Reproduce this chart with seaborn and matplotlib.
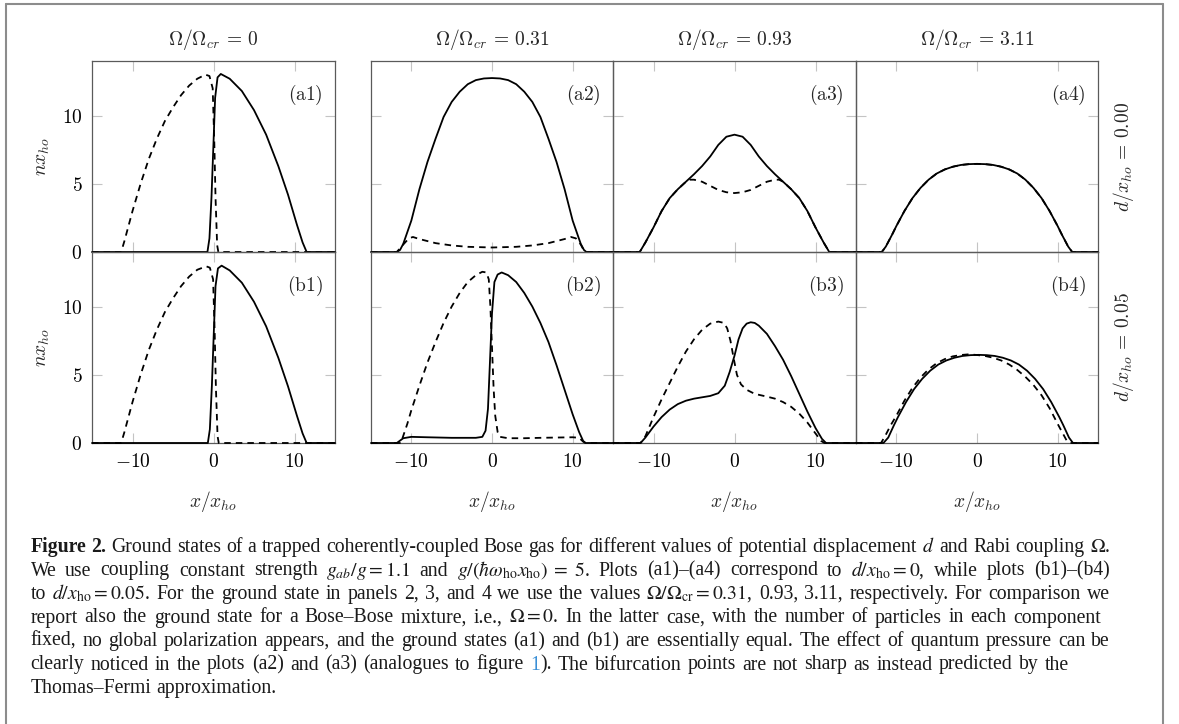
import matplotlib
matplotlib.use('Agg')
import matplotlib.pyplot as plt
import seaborn as sns
from matplotlib.lines import Line2D

# ---- curves: x/x_ho and n*x_ho ----
# (a1) Omega/Omega_cr = 0, d = 0
a1_solid_x = [-15, -0.75, -0.5, -0.25, 0.0, 0.2, 0.5, 0.9, 2.0, 3.5, 5.0, 6.5, 8.0, 9.2, 10.3, 11.0, 11.5, 15]
a1_solid_y = [0, 0, 1.0, 4.0, 8.0, 11.3, 12.8, 13.05, 12.7, 11.8, 10.4, 8.6, 6.3, 4.2, 2.0, 0.7, 0, 0]
a1_dash_x = [-15, -11.4, -11, -10, -9, -8, -7, -6, -5, -4, -3, -2, -1, -0.5, -0.1, 0.1, 0.25, 0.45, 0.6, 15]
a1_dash_y = [0, 0, 0.8, 3.0, 5.0, 6.8, 8.3, 9.6, 10.6, 11.5, 12.2, 12.7, 13.0, 12.9, 12.0, 8.0, 4.0, 0.5, 0, 0]

# (a2) Omega/Omega_cr = 0.31
a2_solid_x = [-15, -11.8, -11.4, -11, -10, -9, -8, -7, -6, -5, -4, -3, -2, -1, 0,
              1, 2, 3, 4, 5, 6, 7, 8, 9, 10, 11, 11.4, 11.7, 15]
a2_solid_y = [0, 0, 0.15, 0.6, 2.3, 4.6, 6.6, 8.3, 9.9, 11.0, 11.75, 12.3, 12.6, 12.72, 12.75,
              12.72, 12.6, 12.3, 11.75, 11.0, 9.9, 8.3, 6.6, 4.6, 2.3, 0.6, 0.15, 0, 0]
a2_dash_x = [-15, -11.8, -11, -10.3, -9.8, -9, -7, -5, -3, 0, 3, 5, 7, 9, 9.8, 10.4, 11, 11.4, 11.7, 15]
a2_dash_y = [0, 0, 0.55, 1.0, 1.1, 0.95, 0.65, 0.48, 0.38, 0.33, 0.38, 0.48, 0.65, 0.95, 1.1, 1.0, 0.55, 0.1, 0, 0]

# (a3) Omega/Omega_cr = 0.93
a3_solid_x = [-15, -11.7, -11, -10, -9, -8, -7, -6, -5, -4, -3, -2, -1, 0,
              1, 2, 3, 4, 5, 6, 7, 8, 9, 10, 11, 11.7, 15]
a3_solid_y = [0, 0, 0.7, 1.8, 3.0, 3.95, 4.6, 5.15, 5.7, 6.3, 7.0, 7.85, 8.45, 8.6,
              8.45, 7.85, 7.0, 6.3, 5.7, 5.15, 4.6, 3.95, 3.0, 1.8, 0.7, 0, 0]
a3_dash_x = [-15, -11.7, -11, -10, -9, -8, -7, -6, -5.5, -5, -4, -3, -2, -1, 0,
             1, 2, 3, 4, 5, 5.5, 6, 7, 8, 9, 10, 11, 11.7, 15]
a3_dash_y = [0, 0, 0.7, 1.8, 3.0, 3.95, 4.6, 5.15, 5.3, 5.3, 5.15, 4.85, 4.55, 4.38, 4.32,
             4.38, 4.55, 4.85, 5.15, 5.3, 5.3, 5.15, 4.6, 3.95, 3.0, 1.8, 0.7, 0, 0]

# (a4) Omega/Omega_cr = 3.11
a4_solid_x = [-15, -11.8, -11.3, -10.5, -10, -9, -8, -7, -6, -5, -4, -3, -2, -1, 0,
              1, 2, 3, 4, 5, 6, 7, 8, 9, 10, 10.5, 11.3, 11.8, 15]
a4_solid_y = [0, 0, 0.4, 1.3, 1.9, 3.0, 3.95, 4.7, 5.3, 5.75, 6.05, 6.25, 6.38, 6.44, 6.46,
              6.44, 6.38, 6.25, 6.05, 5.75, 5.3, 4.7, 3.95, 3.0, 1.9, 1.3, 0.4, 0, 0]
a4_dash_x = a4_solid_x
a4_dash_y = a4_solid_y

# (b1) d/x_ho = 0.05
b1_solid_x = [-15, -0.7, -0.45, -0.2, 0.05, 0.25, 0.55, 1.0, 2.0, 3.5, 5.0, 6.5, 8.0, 9.2, 10.3, 11.0, 11.5, 15]
b1_solid_y = [0, 0, 1.0, 4.2, 8.3, 11.5, 12.8, 13.0, 12.65, 11.75, 10.35, 8.55, 6.25, 4.15, 2.0, 0.7, 0, 0]
b1_dash_x = [-15, -11.4, -11, -10, -9, -8, -7, -6, -5, -4, -3, -2, -0.9, -0.45, -0.05, 0.15, 0.3, 0.5, 0.65, 15]
b1_dash_y = [0, 0, 0.8, 3.0, 5.0, 6.8, 8.3, 9.6, 10.6, 11.5, 12.2, 12.7, 12.95, 12.85, 12.0, 8.0, 4.0, 0.5, 0, 0]

# (b2)
b2_solid_x = [-15, -11.8, -11, -10, -8, -5, -2, -1.2, -0.8, -0.5, -0.25, 0, 0.3, 0.7, 1.2,
              2, 3, 4, 5, 6, 7, 8, 9, 10, 10.8, 11.3, 11.6, 15]
b2_solid_y = [0, 0, 0.35, 0.45, 0.42, 0.38, 0.38, 0.45, 0.9, 2.5, 6.0, 9.5, 11.8, 12.35, 12.5,
              12.3, 11.8, 11.0, 10.0, 8.8, 7.4, 5.7, 3.9, 2.1, 0.8, 0.15, 0, 0]
b2_dash_x = [-15, -11.3, -10.5, -10, -9, -8, -7, -6, -5, -4, -3, -2, -1.2, -0.7, -0.4, -0.2,
             0, 0.2, 0.4, 0.7, 1.0, 2, 4, 6, 8, 10, 10.8, 11.3, 11.6, 15]
b2_dash_y = [0, 0, 1.4, 2.4, 4.2, 5.9, 7.4, 8.8, 10.0, 11.0, 11.8, 12.3, 12.55, 12.5, 12.0, 10.0,
             7.0, 4.0, 2.0, 0.8, 0.45, 0.35, 0.35, 0.38, 0.4, 0.42, 0.38, 0.1, 0, 0]

# (b3)
b3_solid_x = [-15, -11.6, -11, -10, -9, -8, -7, -6, -5, -4, -3, -2, -1.2, -0.6, 0, 0.5, 1, 1.5,
              2, 2.5, 3, 4, 5, 6, 7, 8, 9, 10, 10.8, 11.3, 15]
b3_solid_y = [0, 0, 0.4, 1.2, 1.9, 2.45, 2.85, 3.1, 3.25, 3.35, 3.45, 3.65, 4.2, 5.2, 6.4, 7.6, 8.4, 8.75,
              8.85, 8.8, 8.6, 8.0, 7.1, 6.1, 4.9, 3.6, 2.3, 1.1, 0.3, 0, 0]
b3_dash_x = [-15, -11.6, -11, -10, -9, -8, -7, -6, -5, -4, -3, -2, -1.3, -0.9, -0.5, -0.1, 0.3, 0.8,
             1.5, 2.5, 4, 5, 6, 7, 8, 9, 10, 10.7, 11.1, 15]
b3_dash_y = [0, 0, 0.5, 1.9, 3.2, 4.4, 5.6, 6.7, 7.6, 8.3, 8.75, 8.9, 8.8, 8.4, 7.5, 6.2, 5.0, 4.3,
             3.9, 3.6, 3.4, 3.25, 3.0, 2.65, 2.15, 1.5, 0.7, 0.15, 0, 0]

# (b4)
b4_solid_x = [-15, -11.6, -11.0, -10.3, -9.8, -8.8, -7.8, -6.8, -5.8, -4.8, -3.8, -2.8, -1.8, -0.8, 0.2,
              1.2, 2.2, 3.2, 4.2, 5.2, 6.2, 7.2, 8.2, 9.2, 10.2, 10.7, 11.4, 11.9, 15]
b4_solid_y = [0, 0, 0.4, 1.3, 1.9, 3.0, 3.95, 4.7, 5.3, 5.75, 6.05, 6.25, 6.38, 6.44, 6.46,
              6.44, 6.38, 6.25, 6.05, 5.75, 5.3, 4.7, 3.95, 3.0, 1.9, 1.3, 0.4, 0, 0]
b4_dash_x = [-15, -11.9, -11.4, -10.7, -10, -9, -8, -7, -6, -5, -4, -3, -2, -1, 0,
             1, 2, 3, 4, 5, 6, 7, 8, 9, 10, 10.5, 11.1, 11.5, 15]
b4_dash_y = [0, 0, 0.5, 1.3, 2.0, 3.1, 4.05, 4.8, 5.4, 5.85, 6.15, 6.35, 6.45, 6.5, 6.45,
             6.38, 6.25, 6.05, 5.75, 5.35, 4.85, 4.25, 3.5, 2.55, 1.4, 0.85, 0.2, 0, 0]

col_titles = [r'$\Omega/\Omega_{cr}\,=\,0$', r'$\Omega/\Omega_{cr}\,=\,0.31$',
              r'$\Omega/\Omega_{cr}\,=\,0.93$', r'$\Omega/\Omega_{cr}\,=\,3.11$']
row_titles = [r'$d/x_{ho}\,=\,0.00$', r'$d/x_{ho}\,=\,0.05$']
panel_tags = [['(a1)', '(a2)', '(a3)', '(a4)'], ['(b1)', '(b2)', '(b3)', '(b4)']]
x_ticks = [-10, 0, 10]
x_ticklabels = ['$-10$', '$0$', '$10$']
y_ticks = [0, 5, 10]
y_ticklabels = ['$0$', '$5$', '$10$']

# words are split on spaces; math never holds a space; '|' marks the blue link
caption_lines = [
    r'Figure 2. Ground states of a trapped coherently-coupled Bose gas for different values of potential displacement $d$ and Rabi coupling $\Omega$.',
    r'We use coupling constant strength $g_{ab}/g=1.1$ and $g/(\hbar\omega_\mathrm{ho}x_\mathrm{ho})\;=\;5$. Plots (a1)–(a4) correspond to $d/x_\mathrm{ho}=0$, while plots (b1)–(b4)',
    r'to $d/x_\mathrm{ho}=0.05$. For the ground state in panels 2, 3, and 4 we use the values $\Omega/\Omega_\mathrm{cr}=0.31$, 0.93, 3.11, respectively. For comparison we',
    r'report also the ground state for a Bose–Bose mixture, i.e., $\Omega=0$. In the latter case, with the number of particles in each component',
    r'fixed, no global polarization appears, and the ground states (a1) and (b1) are essentially equal. The effect of quantum pressure can be',
    r'clearly noticed in the plots (a2) and (a3) (analogues to figure 1|). The bifurcation points are not sharp as instead predicted by the',
    r'Thomas–Fermi approximation.',
]

panels = [
    [(a1_solid_x, a1_solid_y, a1_dash_x, a1_dash_y), (a2_solid_x, a2_solid_y, a2_dash_x, a2_dash_y),
     (a3_solid_x, a3_solid_y, a3_dash_x, a3_dash_y), (a4_solid_x, a4_solid_y, a4_dash_x, a4_dash_y)],
    [(b1_solid_x, b1_solid_y, b1_dash_x, b1_dash_y), (b2_solid_x, b2_solid_y, b2_dash_x, b2_dash_y),
     (b3_solid_x, b3_solid_y, b3_dash_x, b3_dash_y), (b4_solid_x, b4_solid_y, b4_dash_x, b4_dash_y)],
]

sns.set_theme(style='white')
plt.rcParams['font.family'] = ['DejaVu Serif']
plt.rcParams['mathtext.fontset'] = 'cm'

W, H = 1179, 724
fig = plt.figure(figsize=(W / 100, H / 100), dpi=100)
fig.patch.set_facecolor('white')

col_left = [92, 371, 613, 856]
col_width = [243, 242, 243, 242]
row_top = [61, 252]
row_h = 191
fs = 14

for r in range(2):
    for c in range(4):
        ax = fig.add_axes([col_left[c] / W, 1 - (row_top[r] + row_h) / H, col_width[c] / W, row_h / H])
        ax.set_facecolor('none')
        sx, sy, dx, dy = panels[r][c]
        sns.lineplot(x=dx, y=dy, ax=ax, color='black', lw=1.3, sort=False, estimator=None,
                     linestyle=(0, (3.6, 2.8)), clip_on=False, zorder=3)
        sns.lineplot(x=sx, y=sy, ax=ax, color='black', lw=1.3, sort=False, estimator=None,
                     clip_on=False, zorder=4)
        ax.set_xlim(-15, 15)
        ax.set_ylim(0, 14)
        ax.set_xticks(x_ticks)
        ax.set_yticks(y_ticks)
        ax.set_xlabel('')
        ax.set_ylabel('')
        ax.tick_params(direction='in', length=7, width=0.8, color='#c4c4c4', top=True, right=True,
                       bottom=True, left=True, labelsize=fs, labelcolor='black', pad=7)
        if c == 0:
            ax.set_yticklabels(y_ticklabels)
        else:
            ax.tick_params(labelleft=False)
        if r == 1:
            ax.set_xticklabels(x_ticklabels)
        else:
            ax.tick_params(labelbottom=False)
        for sp in ax.spines.values():
            sp.set_color('#5a5a5a')
            sp.set_linewidth(0.9)
        ax.text(0.949, 0.822, r'$\mathrm{' + panel_tags[r][c] + '}$', transform=ax.transAxes,
                ha='right', va='center', fontsize=fs)
        if r == 0:
            ax.text(0.5, 1 + 21 / row_h, col_titles[c], transform=ax.transAxes,
                    ha='center', va='center', fontsize=fs)
        else:
            ax.text(0.5, -58 / row_h, r'$x/x_{ho}$', transform=ax.transAxes,
                    ha='center', va='center', fontsize=fs)
        if c == 0:
            fig.text(43 / W, 1 - (row_top[r] + row_h / 2) / H, r'$nx_{ho}$', rotation=90,
                     ha='center', va='center', fontsize=fs)
    fig.text(1123 / W, 1 - (row_top[r] + row_h / 2) / H, row_titles[r], rotation=90,
             ha='center', va='center', fontsize=fs)

# page frame
frame = '#8c8c8c'
fig.add_artist(Line2D([5.5 / W, 5.5 / W], [0, 1 - 3.5 / H], transform=fig.transFigure, color=frame, lw=1.5))
fig.add_artist(Line2D([5.5 / W, 1163 / W], [1 - 3.5 / H, 1 - 3.5 / H], transform=fig.transFigure, color=frame, lw=1.5))
fig.add_artist(Line2D([1163 / W, 1163 / W], [0, 1 - 3.5 / H], transform=fig.transFigure, color=frame, lw=1.5))

# caption, justified line by line
cap_fs = 14.2
cap_left = 30.5
cap_right = [1110, 1110, 1110, 1101, 1110, 1069, None]
cap_base = [552, 575.5, 599, 622.5, 646, 669.5, 693]
fig.canvas.draw()
rend = fig.canvas.get_renderer()
for i, line in enumerate(caption_lines):
    y = 1 - cap_base[i] / H
    items = []
    for j, word in enumerate(line.split(' ')):
        if i == 0 and j < 2:
            segs = [(word, {'weight': 'bold'})]
        elif '|' in word:
            a, b = word.split('|')
            segs = [(a, {'color': '#3a8fd6'}), (b, {})]
        else:
            segs = [(word, {})]
        objs = []
        for s, kw in segs:
            t = fig.text(0, y, s, fontsize=cap_fs, family='Liberation Serif', math_fontfamily='stix',
                         ha='left', va='baseline', color=kw.get('color', '#1a1a1a'),
                         weight=kw.get('weight', 'normal'))
            objs.append((t, t.get_window_extent(renderer=rend).width))
        items.append(objs)
    total = sum(w for objs in items for _, w in objs)
    if cap_right[i] is None:
        gap = 0.25 * cap_fs * 100 / 72
    else:
        gap = max((cap_right[i] - cap_left - total) / (len(items) - 1), 1.5)
    x = cap_left
    for objs in items:
        for t, w in objs:
            t.set_x(x / W)
            x += w
        x += gap

plt.savefig('out.png', dpi=100)
